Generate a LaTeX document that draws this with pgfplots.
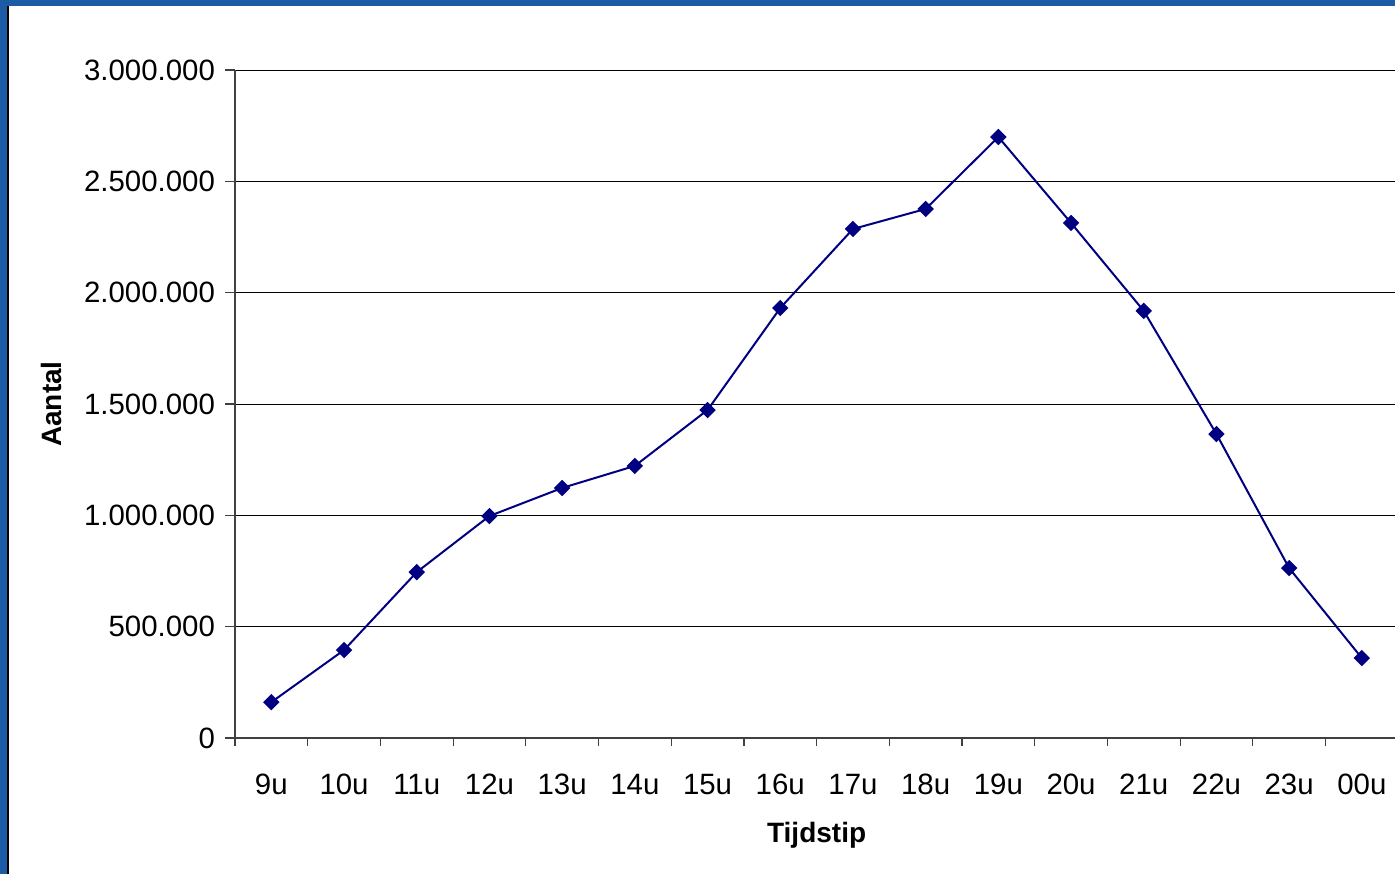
\documentclass[border=0pt]{standalone}
\usepackage{fontspec}
\setmainfont{Liberation Sans}
\usepackage{pgfplots}
\pgfplotsset{compat=1.18}
\definecolor{framblue}{RGB}{28,92,164}
\definecolor{linenavy}{RGB}{0,0,128}
\begin{document}
\begin{tikzpicture}
  % whole picture: 1395 x 874 px at 0.5pt per px, axis origin at px (235,738)
  \useasboundingbox (-117.5pt,-68pt) rectangle (580pt,369pt);
  \fill[framblue] (-117.5pt,366pt) rectangle (580pt,369pt);
  \fill[framblue] (-117.5pt,-68pt) rectangle (-114pt,369pt);
  \fill[black] (-114pt,-68pt) rectangle (-112.8pt,366pt);
  \begin{scope}
  \clip (-117.5pt,-68pt) rectangle (580pt,369pt);
  \begin{axis}[
    at={(0,0)}, anchor=south west,
    scale only axis,
    width=581.6pt, height=334pt,
    xmin=-0.5, xmax=15.5,
    ymin=0, ymax=3000000,
    axis lines*=left,
    axis line style={black!75, line width=0.6pt},
    ytick={0,500000,...,3000000},
    ymajorgrids,
    grid style={black, line width=0.5pt},
    scaled y ticks=false,
    /pgf/number format/.cd, fixed, 1000 sep={.}, assume math mode=true,
    /pgfplots/.cd,
    xtick={0,...,15},
    xticklabels={9u,10u,11u,12u,13u,14u,15u,16u,17u,18u,19u,20u,21u,22u,23u,00u},
    major x tick style={draw=none},
    minor xtick={-0.5,0.5,...,15.5},
    tick align=outside,
    major tick length=5pt,
    minor tick length=4pt,
    tick style={black!75, line width=0.6pt},
    tick label style={font=\fontsize{14.7}{17}\selectfont},
    xticklabel style={yshift=-9.5pt},
    yticklabel style={xshift=-1.5pt},
    xlabel={Tijdstip},
    ylabel={Aantal},
    label style={font=\bfseries\fontsize{14}{17}\selectfont},
    xlabel style={at={(axis description cs:0.5,-0.1452)}, anchor=center},
    ylabel style={at={(axis description cs:-0.1574,0.5)}, anchor=center},
    clip=false,
  ]
  \addplot[linenavy, line width=1pt, mark=square*, mark size=2.4pt,
    mark options={rotate=45, fill=linenavy, draw=linenavy}] table {
    x y
    0 161000
    1 395000
    2 745000
    3 997000
    4 1123000
    5 1222000
    6 1473000
    7 1931000
    8 2286000
    9 2376000
    10 2699000
    11 2313000
    12 1918000
    13 1365000
    14 763000
    15 359000
  };
  \end{axis}
  \end{scope}
\end{tikzpicture}
\end{document}
